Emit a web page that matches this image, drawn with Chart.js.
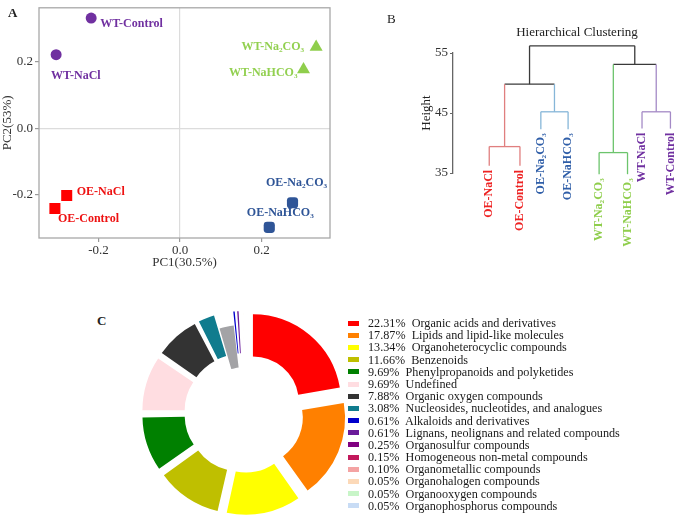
<!DOCTYPE html>
<html>
<head>
<meta charset="utf-8">
<script src="https://cdn.jsdelivr.net/npm/chart.js@4.4.0/dist/chart.umd.min.js"></script>
<style>
  html, body { margin: 0; padding: 0; background: #fff; }
  body { width: 685px; height: 524px; position: relative; overflow: hidden; font-family: 'Liberation Serif', 'Times New Roman', serif; }
  .panel { position: absolute; }
  .tag { position: absolute; font-size: 13px; color: #222; line-height: 1; }
  #legend { position: absolute; left: 348px; top: 317px; margin: 0; padding: 0; list-style: none; }
  #legend li { display: flex; align-items: center; height: 12.2px; font-size: 12.2px; line-height: 12.2px; color: #1a1a1a; white-space: nowrap; }
  #legend .sw { display: inline-block; width: 11px; height: 5px; margin-right: 9px; flex: none; }
</style>
</head>
<body>
<div class="panel" style="left:0;top:0;width:345px;height:272px"><canvas id="pca"></canvas></div>
<div class="panel" style="left:345px;top:0;width:340px;height:262px"><canvas id="dend"></canvas></div>
<div class="panel" style="left:130px;top:302px;width:228px;height:222px"><canvas id="donut"></canvas></div>
<ul id="legend"></ul>
<div class="tag" style="left:8px;top:6px;font-weight:bold">A</div>
<div class="tag" style="left:387px;top:12px">B</div>
<div class="tag" style="left:97px;top:314px;font-weight:bold">C</div>

<script>
// Panel A — PCA scores
var pcaNames = ['WT-Control', 'WT-NaCl', 'WT-Na\u2082CO\u2083', 'WT-NaHCO\u2083', 'OE-NaCl', 'OE-Control', 'OE-Na\u2082CO\u2083', 'OE-NaHCO\u2083'];
var pc1 = [-0.218, -0.304, 0.334, 0.303, -0.278, -0.307, 0.276, 0.219];
var pc2 = [0.332, 0.222, 0.245, 0.177, -0.202, -0.241, -0.224, -0.298];
var pcaGroup = [0, 0, 1, 1, 2, 2, 3, 3];
var pcaTicks = [-0.2, 0, 0.2];

// Panel B — hierarchical clustering (R style merge table)
var leafNames = ['OE-NaCl', 'OE-Control', 'OE-Na\u2082CO\u2083', 'OE-NaHCO\u2083', 'WT-Na\u2082CO\u2083', 'WT-NaHCO\u2083', 'WT-NaCl', 'WT-Control'];
var leafPos = [0, 1.06, 1.78, 2.72, 3.79, 4.77, 5.27, 6.25];
var leafEnd = [36.2, 36.2, 42.3, 42.3, 34.8, 34.8, 42.4, 42.4];
var leafCluster = [0, 0, 1, 1, 2, 2, 3, 3];
var mergeA = [-1, -3, -5, -7, 1, 3, 5];
var mergeB = [-2, -4, -6, -8, 2, 4, 6];
var mergeHeight = [39.4, 45.2, 38.4, 45.2, 49.8, 53.1, 56.2];
var heightTicks = [35, 45, 55];

// Panel C — metabolite classes (%); index 8 is the unlabelled grey slice
var classNames = ['Organic acids and derivatives', 'Lipids and lipid-like molecules', 'Organoheterocyclic compounds',
  'Benzenoids', 'Phenylpropanoids and polyketides', 'Undefined', 'Organic oxygen compounds',
  'Nucleosides, nucleotides, and analogues', '', 'Alkaloids and derivatives', 'Lignans, neolignans and related compounds',
  'Organosulfur compounds', 'Homogeneous non-metal compounds', 'Organometallic compounds',
  'Organohalogen compounds', 'Organooxygen compounds', 'Organophosphorus compounds'];
var classPct = [22.31, 17.87, 13.34, 11.66, 9.69, 9.69, 7.88, 3.08, 2.61, 0.61, 0.61, 0.25, 0.15, 0.10, 0.05, 0.05, 0.05];

// styles
var SERIF = "'Liberation Serif', 'Times New Roman', serif";
var groupColor = ['#7030a0', '#8fce4c', '#ff0000', '#2f5597'];
var groupLabelColor = ['#7030a0', '#92d050', '#ee1111', '#2f5597'];
var groupPoint = ['circle', 'triangle', 'rect', 'rectRounded'];
var groupRadius = [5.5, 7.5, 7.8, 6.5];
var labelPlace = [
  ['left', 9, 6], ['left', -5, 21], ['right', -12, 0], ['right', -6, 3],
  ['left', 10, -4], ['left', 3, 10], ['center', 4, -20], ['center', 11, -14]
];
var clusterLine = ['#e07f7f', '#86b6d8', '#6cc46c', '#a48ac6'];
var clusterText = ['#ee2222', '#2f5ea8', '#8fce4c', '#7030a0'];
var classColors = ['#ff0000', '#ff8000', '#ffff00', '#bfbf00', '#008000', '#ffdde1', '#333333', '#107c8e', '#a3a3a6',
  '#0000cc', '#6a1b9a', '#800080', '#c2185b', '#f4a3a3', '#fcd9b8', '#c8f5c8', '#c8dcf5'];

Chart.defaults.font.family = SERIF;
Chart.defaults.color = '#222';
Chart.defaults.animation = false;

function fixTicks(values) {
  return function (scale) { scale.ticks = values.map(function (v) { return { value: v }; }); };
}
// fixed axis box size, no extra label padding pushed into the layout
function boxSize(w, h) {
  return function (s) {
    if (w) s.width = w;
    if (h) s.height = h;
    s.paddingTop = s.paddingBottom = s.paddingLeft = s.paddingRight = 0;
  };
}

// ---------- A ----------
var pcaSets = [];
for (var g = 0; g < 4; g++) {
  var pts = [];
  for (var i = 0; i < pcaNames.length; i++) {
    if (pcaGroup[i] === g) pts.push({ x: pc1[i], y: pc2[i], idx: i });
  }
  pcaSets.push({
    data: pts, backgroundColor: groupColor[g], borderColor: groupColor[g], borderWidth: 0,
    pointStyle: groupPoint[g], pointRadius: groupRadius[g], pointHoverRadius: groupRadius[g]
  });
}

var pcaLabels = {
  id: 'pcaLabels',
  afterDatasetsDraw: function (chart) {
    var ctx = chart.ctx, a = chart.chartArea;
    ctx.save();
    ctx.strokeStyle = '#a8a8a8';
    ctx.lineWidth = 1.3;
    ctx.strokeRect(a.left, a.top, a.right - a.left, a.bottom - a.top);
    ctx.font = 'bold 12px ' + SERIF;
    ctx.textBaseline = 'middle';
    chart.data.datasets.forEach(function (ds, di) {
      chart.getDatasetMeta(di).data.forEach(function (el, j) {
        var k = ds.data[j].idx, p = labelPlace[k];
        ctx.fillStyle = groupLabelColor[pcaGroup[k]];
        ctx.textAlign = p[0];
        ctx.fillText(pcaNames[k], el.x + p[1], el.y + p[2]);
      });
    });
    ctx.restore();
  }
};

new Chart(document.getElementById('pca'), {
  type: 'scatter',
  data: { datasets: pcaSets },
  plugins: [pcaLabels],
  options: {
    responsive: true, maintainAspectRatio: false,
    layout: { padding: { top: 7, right: 15, left: 0, bottom: 0 } },
    plugins: { legend: { display: false }, tooltip: { enabled: false } },
    scales: {
      x: {
        min: -0.346, max: 0.368,
        afterBuildTicks: fixTicks(pcaTicks),
        afterFit: boxSize(0, 34),
        ticks: { font: { size: 13 }, color: '#333', padding: 1, callback: function (v) { return v.toFixed(1); } },
        grid: { color: function (c) { return c.tick && c.tick.value === 0 ? '#dcdcdc' : 'rgba(0,0,0,0)'; }, tickColor: '#999', tickLength: 4, lineWidth: 1.2 },
        border: { display: false },
        title: { display: true, text: 'PC1(30.5%)', font: { size: 13 }, color: '#333', padding: { top: 2, bottom: 2 } }
      },
      y: {
        min: -0.33, max: 0.363,
        afterBuildTicks: fixTicks(pcaTicks),
        afterFit: boxSize(39, 0),
        ticks: { font: { size: 13 }, color: '#333', padding: 2, callback: function (v) { return v.toFixed(1); } },
        grid: { color: function (c) { return c.tick && c.tick.value === 0 ? '#dcdcdc' : 'rgba(0,0,0,0)'; }, tickColor: '#999', tickLength: 4, lineWidth: 1.2 },
        border: { display: false },
        title: { display: true, text: 'PC2(53%)', font: { size: 13 }, color: '#333', padding: { top: 0, bottom: 0 } }
      }
    }
  }
});

// ---------- B ----------
var nodeX = [], nodeColor = [];
function childX(c) { return c < 0 ? leafPos[-c - 1] : nodeX[c - 1]; }
function childH(c) { return c < 0 ? leafEnd[-c - 1] : mergeHeight[c - 1]; }
function childCol(c) { return c < 0 ? clusterLine[leafCluster[-c - 1]] : nodeColor[c - 1]; }
function childClu(c) { return c < 0 ? leafCluster[-c - 1] : clusterLine.indexOf(nodeColor[c - 1]); }

var dendSets = [];
function seg(x1, y1, x2, y2, col) {
  dendSets.push({ data: [{ x: x1, y: y1 }, { x: x2, y: y2 }], borderColor: col, borderWidth: 1.3,
    showLine: true, pointRadius: 0, pointHoverRadius: 0, clip: false });
}
for (var m = 0; m < mergeA.length; m++) {
  var a = mergeA[m], b = mergeB[m], h = mergeHeight[m];
  var ca = childClu(a), cb = childClu(b);
  nodeX[m] = (childX(a) + childX(b)) / 2;
  nodeColor[m] = (ca === cb && ca >= 0) ? clusterLine[ca] : '#3a3a3a';
  seg(childX(a), childH(a), childX(a), h, childCol(a));
  seg(childX(b), childH(b), childX(b), h, childCol(b));
  seg(childX(a), h, childX(b), h, nodeColor[m]);
}

var dendText = {
  id: 'dendText',
  afterDatasetsDraw: function (chart) {
    var ctx = chart.ctx, xs = chart.scales.x, ys = chart.scales.y;
    ctx.save();
    ctx.font = '13px ' + SERIF;
    ctx.fillStyle = '#222';
    ctx.textAlign = 'center';
    ctx.textBaseline = 'middle';
    ctx.fillText('Hierarchical Clustering', 232, 33);
    ctx.font = 'bold 12px ' + SERIF;
    ctx.textAlign = 'right';
    for (var i = 0; i < leafNames.length; i++) {
      var px = xs.getPixelForValue(leafPos[i]);
      var py = ys.getPixelForValue(leafEnd[i]) + 4;
      ctx.save();
      ctx.translate(px, py);
      ctx.rotate(-Math.PI / 2);
      ctx.fillStyle = clusterText[leafCluster[i]];
      ctx.fillText(leafNames[i], 0, 0);
      ctx.restore();
    }
    ctx.restore();
  }
};

new Chart(document.getElementById('dend'), {
  type: 'scatter',
  data: { datasets: dendSets },
  plugins: [dendText],
  options: {
    responsive: true, maintainAspectRatio: false,
    layout: { padding: { top: 53, bottom: 89, left: 68, right: 5 } },
    plugins: { legend: { display: false }, tooltip: { enabled: false } },
    scales: {
      x: { display: false, min: -1.25, max: 6.58 },
      y: {
        min: 35, max: 55,
        afterBuildTicks: fixTicks(heightTicks),
        afterFit: boxSize(40, 0),
        ticks: { font: { size: 13 }, color: '#333', padding: 2 },
        grid: { drawOnChartArea: false, tickLength: 3, tickColor: '#666' },
        border: { display: true, color: '#666', width: 1.3 },
        title: { display: true, text: 'Height', font: { size: 13 }, color: '#222', padding: { top: 6, bottom: 0 } }
      }
    }
  }
});

// ---------- C ----------
var SHIFT = 14; // radial explode distance of each coloured slice

var htmlLegend = {
  id: 'htmlLegend',
  afterUpdate: function (chart) {
    var ul = document.getElementById('legend');
    ul.innerHTML = '';
    classPct.forEach(function (v, i) {
      if (!classNames[i]) return;
      var li = document.createElement('li');
      var sw = document.createElement('span');
      sw.className = 'sw';
      sw.style.background = classColors[i];
      li.appendChild(sw);
      li.appendChild(document.createTextNode(v.toFixed(2) + '%\u00a0 ' + classNames[i]));
      ul.appendChild(li);
    });
  }
};

new Chart(document.getElementById('donut'), {
  type: 'doughnut',
  data: {
    labels: classNames,
    datasets: [{
      data: classPct,
      backgroundColor: classColors,
      borderWidth: 0,
      offset: function (c) {
        if (!classNames[c.dataIndex]) return 0;
        var circ = classPct[c.dataIndex] / 100 * 2 * Math.PI;
        var fix = 1 - Math.sin(Math.min(Math.PI, circ));
        return 4 * SHIFT / (1 + fix);
      }
    }]
  },
  plugins: [htmlLegend],
  options: {
    responsive: true, maintainAspectRatio: false,
    radius: 88, cutout: '52%',
    plugins: { legend: { display: false }, tooltip: { enabled: false } }
  }
});
</script>
</body>
</html>
